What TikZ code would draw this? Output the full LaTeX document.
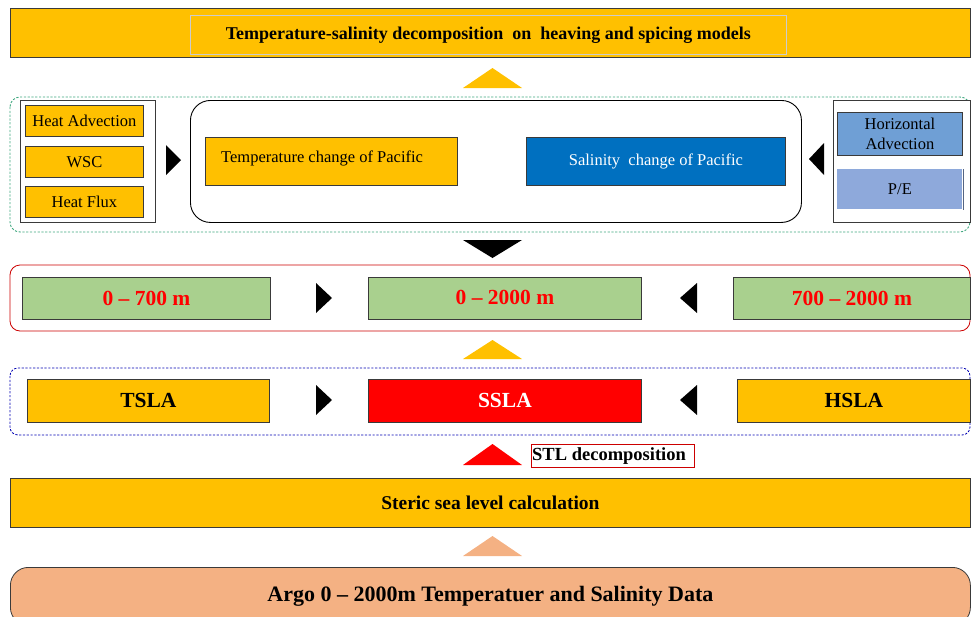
\documentclass[tikz,border=0pt]{standalone}
\usepackage{fontspec}
\setmainfont{Liberation Serif}
\definecolor{gold}{HTML}{FFC000}
\definecolor{dblue}{HTML}{0070C0}
\definecolor{mblue}{HTML}{6F9FD5}
\definecolor{lblue}{HTML}{8EA9DB}
\definecolor{lgreen}{HTML}{A9D08E}
\definecolor{salmon}{HTML}{F4B183}
\definecolor{tealg}{HTML}{3FA77F}
\definecolor{bdr}{HTML}{3A3A3A}
\tikzset{
  box/.style={draw=bdr, line width=0.8pt, inner sep=0pt, anchor=north west},
  smalltxt/.style={font=\fontsize{16.5}{20}\selectfont},
  bigtxt/.style={font=\bfseries\fontsize{21.5}{24}\selectfont},
}
\begin{document}
\begin{tikzpicture}[x=1pt,y=-1pt]
\useasboundingbox (0,0) rectangle (972,616);
% top
\node[box, fill=gold, minimum width=960, minimum height=49] (top) at (10,8) {};
\node[draw=gray!40, line width=0.6pt, minimum width=596, minimum height=39, anchor=north west, inner sep=0pt,
  font=\bfseries\fontsize{18}{20}\selectfont] (toptxt) at (190,15) {Temperature-salinity decomposition\ \ on\ \ heaving and spicing models};
\fill[gold] (463,88) -- (492.5,68) -- (522,88) -- cycle;
% green dashed group
\draw[tealg, dash pattern=on 2.2pt off 1.6pt, line width=0.9pt, rounded corners=10] (10,97) rectangle (970,232);
\node[box, fill=white, minimum width=135, minimum height=122] (lgrp) at (20,100) {};
\node[box, fill=gold, minimum width=118, minimum height=31, smalltxt] (ha) at (25,105) {Heat Advection};
\node[box, fill=gold, minimum width=118, minimum height=31, smalltxt] (wsc) at (25,146) {WSC};
\node[box, fill=gold, minimum width=118, minimum height=31, smalltxt] (hf) at (25,186) {Heat Flux};
\fill (166,145) -- (181,160) -- (166,175) -- cycle;
\node[draw=black, line width=0.9pt, rounded corners=20, minimum width=611, minimum height=122, anchor=north west, inner sep=0pt] (pac) at (190,100) {};
\node[box, fill=gold, minimum width=252, minimum height=48] (tcp) at (205,137) {};
\node[smalltxt, anchor=west, inner sep=0pt] (tcptxt) at (221,158) {Temperature change of Pacific};
\node[box, fill=dblue, minimum width=259, minimum height=48, text=white, smalltxt] (scp) at (526,137) {Salinity\ \ change of Pacific};
\fill (824,143) -- (809,159) -- (824,175) -- cycle;
\node[box, fill=white, minimum width=137, minimum height=122] (rgrp) at (833,100) {};
\node[box, fill=mblue, minimum width=125, minimum height=43, align=center, font=\fontsize{16.5}{20}\selectfont] (hadv) at (837,112) {Horizontal\\Advection};
\node[box, draw=none, fill=lblue, minimum width=125, minimum height=40, smalltxt] (pe) at (837,169) {P/E};
\draw[lblue!60!black, line width=0.6pt] (pe.north east) -- (pe.south east);
% black down triangle
\fill (463,240) -- (522,240) -- (492.5,258) -- cycle;
% red group
\draw[red!80!black, line width=0.8pt, rounded corners=10] (10,265) rectangle (970,331);
\node[box, fill=lgreen, minimum width=248, minimum height=42, text=red, bigtxt] (d1) at (22,277) {0 – 700 m};
\fill (316,283) -- (332,298) -- (316,313) -- cycle;
\node[box, fill=lgreen, minimum width=273, minimum height=42, text=red, bigtxt] (d2) at (368,277) {\raisebox{2pt}{0 – 2000 m}};
\fill (697,283) -- (680,298) -- (697,313) -- cycle;
\node[box, fill=lgreen, minimum width=237, minimum height=42, text=red, bigtxt] (d3) at (733,277) {\raisebox{-2pt}{700 – 2000 m}};
\fill[gold] (463,359) -- (492.5,340) -- (522,359) -- cycle;
% blue dashed group
\draw[blue!70!black, dash pattern=on 2.2pt off 1.6pt, line width=0.8pt, rounded corners=8] (10,368) rectangle (970,435);
\node[box, fill=gold, minimum width=242, minimum height=43, bigtxt] (tsla) at (27,379) {\raisebox{-2pt}{TSLA}};
\fill (316,385) -- (332,400) -- (316,415) -- cycle;
\node[box, fill=red, minimum width=273, minimum height=43, text=white, bigtxt] (ssla) at (368,379) {SSLA};
\fill (697,385) -- (680,400) -- (697,415) -- cycle;
\node[box, fill=gold, minimum width=233, minimum height=43, bigtxt] (hsla) at (737,379) {HSLA};
% STL
\fill[red] (463,465) -- (492.5,444) -- (522,465) -- cycle;
\node[draw=red!80!black, line width=0.7pt, fill=white, minimum width=163, minimum height=23, anchor=north west, inner sep=0pt] (stl) at (531,444) {};
\node[anchor=west, inner sep=0pt, font=\bfseries\fontsize{18.5}{20}\selectfont] (stltxt) at (532,456) {STL decomposition};
% steric
\node[box, fill=gold, minimum width=960, minimum height=49, font=\bfseries\fontsize{19.5}{22}\selectfont] (steric) at (10,478) {Steric sea level calculation};
\fill[salmon] (463,556) -- (492.5,536) -- (522,556) -- cycle;
% argo
\node[draw=bdr, line width=0.8pt, fill=salmon, rounded corners=18, minimum width=960, minimum height=58, anchor=north west, inner sep=0pt, font=\bfseries\fontsize{22}{24}\selectfont] (argo) at (10,567) {\raisebox{-4pt}{Argo 0 – 2000m Temperatuer and Salinity Data}};
\end{tikzpicture}
\end{document}
